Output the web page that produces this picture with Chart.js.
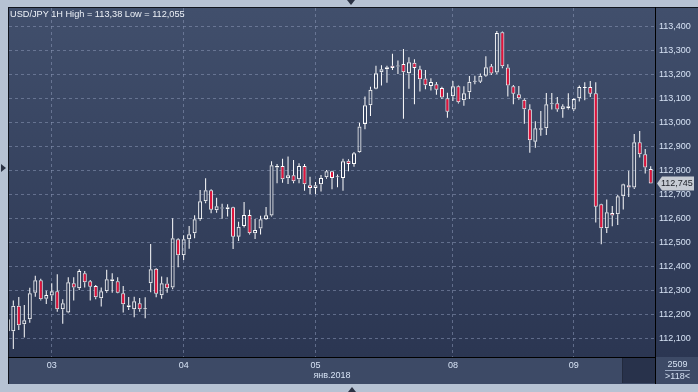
<!DOCTYPE html>
<html>
<head>
<meta charset="utf-8">
<script src="https://cdn.jsdelivr.net/npm/chart.js@4.4.1/dist/chart.umd.min.js"></script>
<style>
  html, body { margin: 0; padding: 0; width: 698px; height: 392px; overflow: hidden; background: #b6c2d3; font-family: "Liberation Sans", Arial, sans-serif; }
  #wrap { position: absolute; left: 8px; top: 7px; width: 690px; height: 377px; }
  canvas { display: block; }
  #hdr { position: absolute; left: 10px; top: 9px; font-size: 9.2px; line-height: 11px; color: #eef2f8; white-space: nowrap; }
  #cnt { position: absolute; left: 657px; top: 359px; width: 41px; text-align: center; font-size: 9px; line-height: 11px; color: #d5e1f2; }
  #cnt .a { display: inline-block; border-bottom: 1px solid #9aa8c0; padding: 0 2px; }
  .tri { position: absolute; width: 0; height: 0; }
  #t1 { left: 347px; top: 0; border-left: 4px solid transparent; border-right: 4px solid transparent; border-top: 5px solid #2b3244; }
  #t2 { left: 348px; top: 387px; border-left: 4px solid transparent; border-right: 4px solid transparent; border-bottom: 5px solid #2b3244; }
  #t3 { left: 1px; top: 164px; border-top: 4px solid transparent; border-bottom: 4px solid transparent; border-left: 5px solid #2b3244; }
</style>
</head>
<body>
<div id="wrap"><canvas id="chart" width="690" height="377"></canvas></div>
<div id="hdr">USD/JPY 1H High = 113,38 Low = 112,055</div>
<div id="cnt"><span class="a">2509</span><br>&gt;118&lt;</div>
<div class="tri" id="t1"></div>
<div class="tri" id="t2"></div>
<div class="tri" id="t3"></div>
<script>
// hourly candles, 118 bars
const open = [112.179,112.129,112.235,112.158,112.179,112.290,112.342,112.265,112.278,112.296,
  112.221,112.207,112.329,112.308,112.371,112.338,112.318,112.267,112.296,112.346,
  112.338,112.288,112.238,112.221,112.246,112.221,112.329,112.390,112.279,112.328,
  112.312,112.513,112.446,112.513,112.538,112.596,112.671,112.717,112.633,112.641,
  112.638,112.646,112.523,112.568,112.614,112.538,112.557,112.596,112.611,112.818,
  112.818,112.767,112.779,112.763,112.818,112.738,112.726,112.742,112.771,112.796,
  112.771,112.768,112.840,112.826,112.875,112.993,113.071,113.140,113.208,113.221,
  113.235,113.232,113.243,113.204,113.248,113.221,113.182,113.151,113.158,113.143,
  113.100,113.108,113.150,113.092,113.125,113.169,113.169,113.194,113.233,113.207,
  113.375,113.228,113.150,113.117,113.094,113.054,112.919,112.969,112.975,113.075,
  113.079,113.054,113.067,113.053,113.100,113.143,113.147,113.121,112.658,112.558,
  112.622,112.617,112.692,112.738,112.728,112.917,112.867,112.805];
const high = [112.189,112.257,112.272,112.239,112.311,112.360,112.348,112.298,112.329,112.367,
  112.263,112.354,112.354,112.388,112.380,112.343,112.322,112.312,112.385,112.371,
  112.354,112.318,112.272,112.273,112.268,112.271,112.493,112.393,112.357,112.354,
  112.600,112.517,112.529,112.568,112.613,112.718,112.767,112.721,112.685,112.660,
  112.658,112.648,112.585,112.668,112.635,112.597,112.610,112.647,112.838,112.826,
  112.848,112.857,112.843,112.829,112.826,112.773,112.751,112.780,112.801,112.798,
  112.782,112.848,112.846,112.876,112.998,113.107,113.148,113.235,113.238,113.235,
  113.285,113.257,113.305,113.271,113.263,113.235,113.218,113.183,113.168,113.148,
  113.123,113.172,113.153,113.150,113.193,113.194,113.203,113.275,113.243,113.380,
  113.378,113.242,113.155,113.151,113.100,113.075,113.004,113.047,113.122,113.122,
  113.105,113.075,113.121,113.100,113.153,113.167,113.172,113.167,112.660,112.678,
  112.651,112.697,112.744,112.798,112.951,112.964,112.889,112.817];
const low = [112.122,112.055,112.135,112.103,112.165,112.273,112.257,112.243,112.255,112.211,
  112.161,112.204,112.257,112.301,112.312,112.257,112.263,112.232,112.290,112.290,
  112.288,112.207,112.218,112.188,112.211,112.183,112.292,112.271,112.265,112.290,
  112.304,112.396,112.426,112.473,112.517,112.590,112.663,112.621,112.623,112.598,
  112.607,112.472,112.505,112.562,112.532,112.514,112.532,112.593,112.607,112.746,
  112.748,112.743,112.746,112.746,112.715,112.701,112.701,112.711,112.765,112.721,
  112.729,112.715,112.796,112.815,112.873,112.971,113.026,113.138,113.153,113.165,
  113.218,113.201,113.015,113.140,113.075,113.128,113.138,113.132,113.115,113.097,
  113.019,113.089,113.078,113.069,113.097,113.158,113.164,113.190,113.197,113.200,
  113.225,113.107,113.075,113.094,112.994,112.873,112.894,112.944,112.947,113.053,
  113.044,113.019,113.053,113.047,113.086,113.092,113.105,112.582,112.492,112.539,
  112.567,112.572,112.636,112.689,112.722,112.853,112.786,112.745];
const close = [112.129,112.235,112.154,112.175,112.288,112.342,112.263,112.280,112.296,112.221,
  112.246,112.333,112.312,112.380,112.333,112.315,112.271,112.296,112.346,112.338,
  112.290,112.242,112.229,112.254,112.221,112.223,112.388,112.285,112.329,112.308,
  112.517,112.446,112.513,112.533,112.596,112.671,112.717,112.635,112.650,112.645,
  112.646,112.523,112.565,112.614,112.538,112.551,112.596,112.613,112.821,112.811,
  112.763,112.779,112.754,112.818,112.742,112.726,112.738,112.768,112.796,112.768,
  112.774,112.838,112.826,112.871,112.982,113.071,113.135,113.204,113.221,113.229,
  113.226,113.235,113.208,113.250,113.226,113.179,113.154,113.168,113.135,113.103,
  113.044,113.150,113.083,113.121,113.169,113.172,113.194,113.229,113.203,113.372,
  113.233,113.153,113.119,113.100,113.054,112.925,112.975,112.975,113.075,113.079,
  113.053,113.067,113.058,113.097,113.147,113.147,113.119,112.648,112.558,112.625,
  112.611,112.692,112.742,112.728,112.917,112.867,112.811,112.745];

// first bar of each day and its label
const dayBars = [8, 32, 56, 81, 103];
const dayLabels = ['03', '04', '05', '08', '09'];
const monthLabel = 'янв.2018';
const priceTicks = [112.1, 112.2, 112.3, 112.4, 112.5, 112.6, 112.7, 112.8, 112.9, 113.0, 113.1, 113.2, 113.3, 113.4];

const RED = '#e4123a';
const TXT = '#d6e2f4';
const GRID = 'rgba(138,152,182,0.55)';

const bodies = open.map((o, i) => ({ x: i, y: [o, close[i]] }));
const upper = open.map((o, i) => ({ x: i, y: [Math.max(o, close[i]), high[i]] }));
const lower = open.map((o, i) => ({ x: i, y: [low[i], Math.min(o, close[i])] }));

const fmt = (v) => v.toFixed(3).replace('.', ',');

const frame = {
  id: 'frame',
  beforeDraw(chart) {
    const { ctx, chartArea: a, width, height } = chart;
    ctx.save();
    const g = ctx.createLinearGradient(0, a.top, 0, a.bottom);
    g.addColorStop(0, '#414f6c');
    g.addColorStop(1, '#2b3652');
    ctx.fillStyle = g;
    ctx.fillRect(0, 0, width, a.bottom);
    ctx.fillStyle = '#3d4a66';
    ctx.fillRect(0, a.bottom, width, height - a.bottom);
    ctx.fillStyle = '#28324b';
    ctx.fillRect(a.right - 32, a.bottom + 1, 32, height - a.bottom - 2);
    ctx.fillStyle = '#222a3d';
    ctx.fillRect(a.right - 33, a.bottom + 1, 1, height - a.bottom - 2);
    ctx.restore();
  },
  afterDraw(chart) {
    const { ctx, chartArea: a, width, height } = chart;
    ctx.save();
    ctx.fillStyle = '#10141d';
    ctx.fillRect(0, 0, width, 1);
    ctx.fillRect(0, 0, 1, height);
    ctx.fillStyle = '#000';
    ctx.fillRect(a.right, 0, 1, height);
    ctx.fillRect(0, a.bottom, a.right, 1);
    // last price marker on the axis
    const y = Math.round(chart.scales.y.getPixelForValue(close[close.length - 1]));
    const x0 = a.right + 2;
    ctx.fillStyle = '#c6cbd3';
    ctx.beginPath();
    ctx.moveTo(x0, y + 0.5);
    ctx.lineTo(x0 + 5, y - 6.5);
    ctx.lineTo(width - 4, y - 6.5);
    ctx.lineTo(width - 4, y + 7.5);
    ctx.lineTo(x0 + 5, y + 7.5);
    ctx.closePath();
    ctx.fill();
    ctx.fillStyle = '#1a1e26';
    ctx.font = '9px "Liberation Sans"';
    ctx.textBaseline = 'middle';
    ctx.fillText(fmt(close[close.length - 1]), x0 + 4, y + 1);
    ctx.restore();
  }
};

Chart.defaults.font.family = '"Liberation Sans", Arial, sans-serif';
Chart.defaults.font.size = 9;
Chart.defaults.color = TXT;

const common = { grouped: false, clip: 0, inflateAmount: 0 };

new Chart(document.getElementById('chart'), {
  type: 'bar',
  data: {
    datasets: [
      { ...common, data: upper, backgroundColor: '#ffffff', barThickness: 1 },
      { ...common, data: lower, backgroundColor: '#ffffff', barThickness: 1 },
      {
        ...common,
        data: bodies,
        backgroundColor: (c) => close[c.dataIndex] < open[c.dataIndex] ? RED : 'rgba(0,0,0,0)',
        borderColor: '#ffffff',
        borderWidth: 1,
        borderSkipped: false,
        barThickness: 4,
        minBarLength: 1
      }
    ]
  },
  options: {
    responsive: false,
    animation: false,
    events: [],
    layout: { padding: { left: 1, top: 1, right: 0, bottom: 0 } },
    plugins: { legend: { display: false }, tooltip: { enabled: false } },
    scales: {
      x: {
        type: 'linear',
        offset: false,
        bounds: 'data',
        min: 0.218,
        max: 117.78,
        afterBuildTicks: (s) => { s.ticks = dayBars.map((v) => ({ value: v })); },
        afterFit: (s) => { s.height = 27; s.paddingLeft = 0; s.paddingRight = 0; },
        ticks: { callback: (v, i) => dayLabels[i], padding: 3, maxRotation: 0, autoSkip: false, color: TXT },
        grid: { color: GRID, drawTicks: false, offset: false },
        border: { display: false, dash: [3, 3] },
        title: { display: true, text: monthLabel, color: TXT, font: { size: 9 }, padding: { top: 0, bottom: 3 } }
      },
      y: {
        type: 'linear',
        position: 'right',
        bounds: 'data',
        min: 112.022,
        max: 113.476,
        afterBuildTicks: (s) => { s.ticks = priceTicks.map((v) => ({ value: v })); },
        afterFit: (s) => { s.width = 43; s.paddingTop = 0; s.paddingBottom = 0; },
        ticks: { callback: (v) => fmt(v), padding: 4, color: TXT },
        grid: { color: GRID, drawTicks: false },
        border: { display: false, dash: [3, 3] }
      }
    }
  },
  plugins: [frame]
});
</script>
</body>
</html>
